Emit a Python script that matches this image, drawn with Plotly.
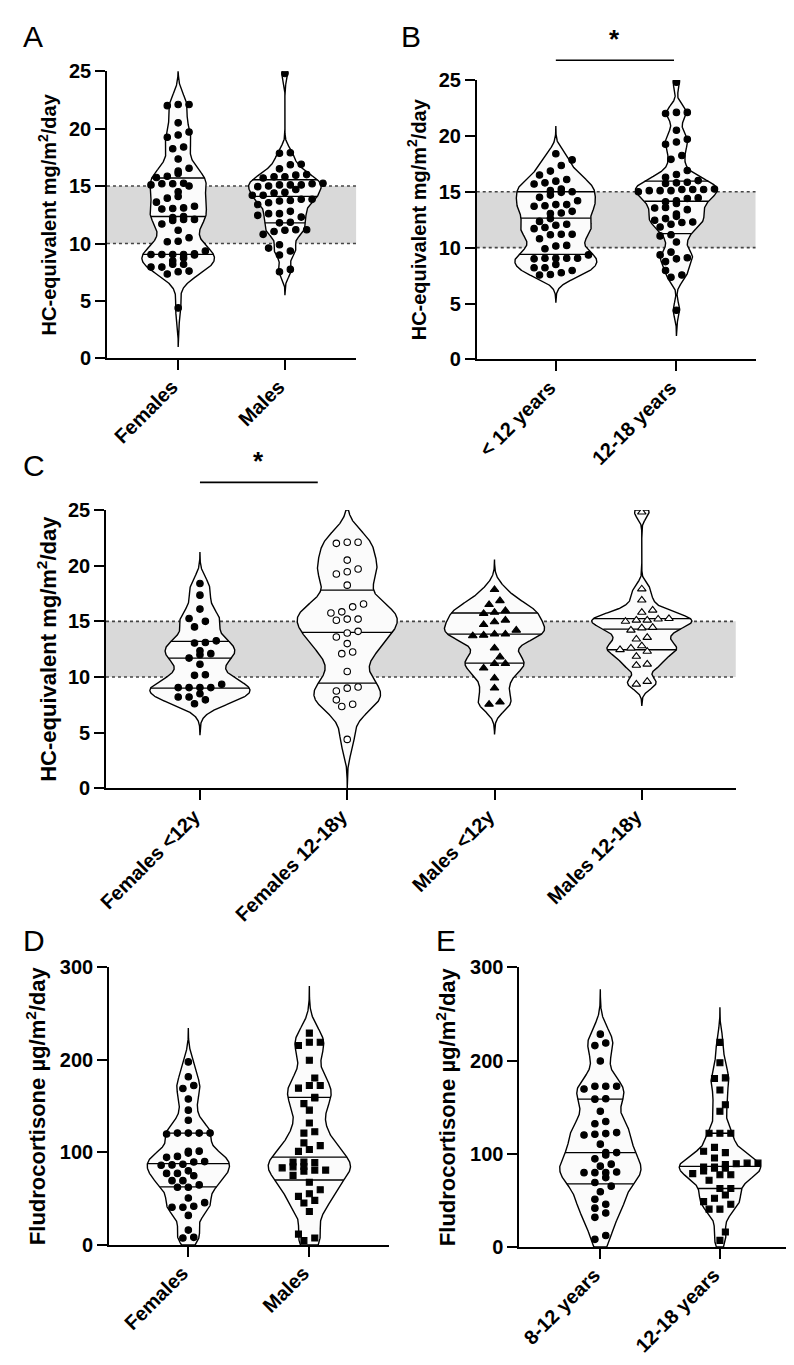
import numpy as np
import plotly.graph_objects as go

W, H = 794, 1365

# HC-equivalent dose, mg/m2/day (subgroups of panel C; A and B are their unions)
fem_lt12 = [18.4, 17.35, 16.1, 15.25, 15.0, 14.5, 13.25, 13.1, 13.05, 12.35, 12.1, 12.0, 11.7,
            11.15, 10.2, 10.15, 9.35, 9.05, 9.05, 9.05, 9.05, 8.5, 8.2, 8.2, 7.95, 7.6]
fem_12_18 = [22.1, 22.0, 22.1, 20.5, 19.7, 19.45, 19.25, 18.25, 16.55, 16.3, 15.85, 15.75, 15.2,
             15.2, 15.1, 14.1, 13.95, 13.6, 13.0, 12.25, 12.1, 10.5, 9.1, 9.0, 8.75, 7.95, 7.55,
             7.35, 4.4]
male_lt12 = [17.85, 16.85, 16.5, 15.95, 15.8, 15.7, 15.1, 14.95, 14.7, 14.2, 13.85, 13.85, 13.75,
             13.7, 12.6, 11.8, 11.2, 11.2, 10.8, 9.9, 9.0, 7.75, 7.55]
male_12_18 = [24.8, 17.9, 16.9, 16.0, 15.8, 15.25, 15.2, 15.1, 15.1, 15.0, 14.45, 14.4, 14.2,
              13.55, 13.4, 12.8, 12.6, 12.45, 12.3, 11.85, 11.15, 11.05, 9.6, 9.35]

# fludrocortisone dose, ug/m2/day
fc_females = [197.9, 181.9, 172.3, 169.1, 157.8, 145.7, 134.8, 120.9, 120.9, 120.9, 120.9, 119.9,
              101.4, 101.1, 99.3, 95.7, 94.7, 90.1, 89.7, 87.2, 86.5, 86.2, 80.1, 77.3, 77.3, 74.8,
              69.5, 69.5, 64.9, 62.4, 62.4, 50.7, 45.7, 41.8, 40.8, 40.8, 31.9, 16.0, 8.2, 7.4]
fc_males = [229.0, 219.1, 219.1, 215.6, 199.6, 180.5, 172.3, 172.3, 169.5, 159.6, 158.9, 152.8,
            145.7, 131.9, 122.3, 120.9, 110.3, 107.4, 103.2, 101.1, 89.7, 89.7, 89.0, 84.8, 84.4,
            83.3, 80.9, 80.9, 79.8, 75.2, 67.7, 59.6, 55.3, 52.5, 48.2, 45.4, 36.2, 11.7, 7.4, 4.6]
fc_8_12 = [228.4, 218.9, 216.1, 199.5, 172.4, 172.4, 172.4, 169.5, 159.0, 158.6, 145.6, 134.6,
           132.2, 122.7, 121.6, 120.9, 120.2, 110.3, 101.2, 101.2, 98.7, 94.5, 88.8, 86.7, 80.4,
           79.7, 79.7, 79.7, 74.4, 69.1, 65.2, 59.2, 51.1, 45.8, 41.6, 36.3, 31.7, 12.3, 8.1]
fc_12_18 = [219.6, 197.7, 181.5, 180.8, 168.5, 152.6, 145.6, 122.0, 122.0, 122.0, 106.8, 102.6,
            101.2, 95.5, 89.9, 89.9, 89.2, 88.5, 85.7, 85.7, 84.6, 84.6, 81.4, 78.6, 77.5, 77.5,
            71.6, 62.7, 62.7, 55.7, 52.2, 48.6, 45.8, 40.5, 40.5, 15.9, 7.0]

# quartile lines (q1, median, q3) as drawn in the figure
quart_a = [(9.05, 12.35, 15.7), (11.8, 14.1, 15.55)]
quart_b = [(9.4, 12.65, 15.0), (11.25, 14.15, 15.95)]
quart_c = [(9.0, 11.7, 13.2), (9.45, 14.0, 17.8), (11.25, 13.85, 15.75), (12.45, 14.3, 15.25)]
quart_d = [(62.8, 87.9, 120.9), (70.2, 95.0, 159.6)]
quart_e = [(67.7, 101.2, 158.6), (62.7, 86.4, 122.0)]

labels_a = ["Females", "Males"]
labels_b = ["< 12 years", "12-18 years"]
labels_c = ["Females <12y", "Females 12-18y", "Males <12y", "Males 12-18y"]
labels_d = ["Females", "Males"]
labels_e = ["8-12 years", "12-18 years"]

HC_TITLE = "HC-equivalent mg/m<sup>2</sup>/day"
FC_TITLE = "Fludrocortisone µg/m<sup>2</sup>/day"
FONT = "Arial, Liberation Sans, sans-serif"

DOT = dict(symbol="circle", color="black", size=6.5)
RING = dict(symbol="circle", color="white", size=6.5)
TRI = dict(symbol="triangle-up", color="black", size=7.5)
OTRI = dict(symbol="triangle-up", color="white", size=7.5)
SQ = dict(symbol="square", color="black", size=6)

panels = [
    dict(letter="A", px=(91, 343), py=(53, 345), ymax=25, dtick=5, pad=0.667,
         groups=[fem_lt12 + fem_12_18, male_lt12 + male_12_18], labels=labels_a,
         quart=quart_a, marks=[DOT, DOT], band=True, title=HC_TITLE, tsize=20, standoff=7,
         xsize=20),
    dict(letter="B", px=(465, 747), py=(62, 346), ymax=25, dtick=5, pad=0.656,
         groups=[fem_lt12 + male_lt12, fem_12_18 + male_12_18], labels=labels_b,
         quart=quart_b, marks=[DOT, DOT], band=True, title=HC_TITLE, tsize=20, standoff=7,
         xsize=20, sig=(0.0, 0.98, 42)),
    dict(letter="C", px=(90, 727), py=(499, 782), ymax=25, dtick=5, pad=0.638,
         groups=[fem_lt12, fem_12_18, male_lt12, male_12_18], labels=labels_c,
         quart=quart_c, marks=[DOT, RING, TRI, OTRI], band=True, title=HC_TITLE, tsize=22,
         standoff=5, xsize=20, sig=(0.0, 0.8, 471)),
    dict(letter="D", px=(93, 376), py=(964, 1246), ymax=300, dtick=100, pad=0.656,
         groups=[fc_females, fc_males], labels=labels_d,
         quart=quart_d, marks=[DOT, SQ], band=False, title=FC_TITLE, tsize=22, standoff=8,
         xsize=20),
    dict(letter="E", px=(508, 793), py=(964, 1248), ymax=300, dtick=100, pad=0.678,
         groups=[fc_8_12, fc_12_18], labels=labels_e,
         quart=quart_e, marks=[DOT, SQ], band=False, title=FC_TITLE, tsize=22, standoff=8,
         xsize=20),
]
letter_pos = {"A": (4, 18), "B": (386, 18), "C": (4, 454), "D": (4, 937), "E": (422, 937)}

HALF_W = 0.34


def bandwidth(v):
    iqr = np.subtract(*np.percentile(v, [75, 25]))
    return 0.5 * min(v.std(ddof=1), iqr / 1.34) * len(v) ** -0.2


def kde(v, grid, bw):
    return np.exp(-0.5 * ((np.asarray(grid)[:, None] - v[None, :]) / bw) ** 2).sum(axis=1)


def swarm(vals, kx, ky, step=11.0, row_h=6.0, gap=8.5):
    """Centred rows of points, shifted half a step when they would overlap."""
    vals = np.asarray(vals, float)
    rows = []
    for i in np.argsort(vals):
        y = vals[i] * ky
        if rows and y - rows[-1][0] < row_h:
            rows[-1][1].append(i)
        else:
            rows.append([y, [i]])
    offs = np.zeros(len(vals))
    placed = []
    for _, idx in rows:
        m = len(idx)
        best = None
        for shift in (0.0, step / 2, -step / 2, step, -step):
            xs = [(j - (m - 1) / 2) * step + shift for j in range(m)]
            hits = sum(1 for x, i in zip(xs, idx) for px, py in placed
                       if (x - px) ** 2 + (vals[i] * ky - py) ** 2 < gap ** 2)
            if best is None or hits < best[0]:
                best = (hits, xs)
            if hits == 0:
                break
        for x, i in zip(best[1], idx):
            placed.append((x, vals[i] * ky))
            offs[i] = x / kx
    return offs


fig = go.Figure()
shapes, annotations = [], []

for n, p in enumerate(panels, start=1):
    sfx = "" if n == 1 else str(n)
    xa, ya = "x" + sfx, "y" + sfx
    ncat = len(p["groups"])
    x0, x1 = p["px"]
    ytop, ybot = p["py"]
    xrange = [-p["pad"], ncat - 1 + p["pad"]]
    kx = (x1 - x0) / (xrange[1] - xrange[0])
    ky = (ybot - ytop) / p["ymax"]

    axis_common = dict(showline=True, linecolor="black", linewidth=1.5, ticks="outside",
                       tickwidth=1.5, tickcolor="black", showgrid=False, zeroline=False)
    fig.update_layout({
        "xaxis" + sfx: dict(domain=[x0 / W, x1 / W], anchor=ya, range=xrange,
                            tickvals=list(range(ncat)), ticktext=p["labels"], tickangle=-45,
                            ticklen=10, ticklabelshift=-6, ticklabelstandoff=-3,
                            tickfont=dict(family=FONT, size=p["xsize"], color="black",
                                          weight="bold"), **axis_common),
        "yaxis" + sfx: dict(domain=[1 - ybot / H, 1 - ytop / H], anchor=xa,
                            range=[0, p["ymax"]], dtick=p["dtick"], ticklen=10,
                            tickfont=dict(family=FONT, size=20, color="black", weight="bold"),
                            title=dict(text=p["title"], standoff=p["standoff"],
                                       font=dict(family=FONT, size=p["tsize"], color="black",
                                                 weight="bold")),
                            **axis_common),
    })

    if p["band"]:
        shapes.append(dict(type="rect", xref=xa + " domain", yref=ya, x0=0, x1=1, y0=10, y1=15,
                           fillcolor="#d9d9d9", line_width=0, layer="below"))
        for yv in (10, 15):
            shapes.append(dict(type="line", xref=xa + " domain", yref=ya, x0=0, x1=1,
                               y0=yv, y1=yv, line=dict(color="#444", width=1.6, dash="dot"),
                               layer="below"))

    for i, (vals, quart, mk) in enumerate(zip(p["groups"], p["quart"], p["marks"])):
        v = np.asarray(vals, float)
        bw = bandwidth(v)
        lo = max(v.min() - 3.5 * bw, 0)
        hi = min(v.max() + 3.5 * bw, p["ymax"])
        grid = np.linspace(lo, hi, 500)
        dens = kde(v, grid, bw)
        scale = HALF_W / dens.max()
        w = dens * scale
        fig.add_trace(go.Scatter(
            x=np.concatenate([i + w, (i - w)[::-1], [i + w[0]]]),
            y=np.concatenate([grid, grid[::-1], [grid[0]]]),
            mode="lines", fill="toself", fillcolor="#fbfbfb",
            line=dict(color="black", width=1.4), hoverinfo="skip",
            showlegend=False, xaxis=xa, yaxis=ya))

        qx, qy = [], []
        for q in quart:
            wq = kde(v, [q], bw)[0] * scale
            qx += [i - wq, i + wq, None]
            qy += [q, q, None]
        fig.add_trace(go.Scatter(x=qx, y=qy, mode="lines", line=dict(color="black", width=1.3),
                                 hoverinfo="skip", showlegend=False, xaxis=xa, yaxis=ya))

        offs = swarm(v, kx, ky)
        fig.add_trace(go.Scatter(
            x=i + offs, y=v, mode="markers", showlegend=False, xaxis=xa, yaxis=ya,
            marker=dict(symbol=mk["symbol"], size=mk["size"], color=mk["color"],
                        line=dict(color="black", width=1.1))))

    if "sig" in p:
        sx0, sx1, sy = p["sig"]
        shapes.append(dict(type="line", xref=xa, yref="paper", x0=sx0, x1=sx1,
                           y0=1 - sy / H, y1=1 - sy / H, line=dict(color="black", width=1.6)))
        annotations.append(dict(text="*", xref=xa, yref="paper", x=(sx0 + sx1) / 2,
                                y=1 - (sy - 4) / H, yanchor="bottom", showarrow=False,
                                font=dict(family=FONT, size=26, color="black", weight="bold")))

    lx, ly = letter_pos[p["letter"]]
    annotations.append(dict(text=p["letter"], xref="paper", yref="paper", x=lx / W,
                            y=1 - ly / H, xanchor="left", yanchor="middle", showarrow=False,
                            font=dict(family=FONT, size=30, color="black")))

fig.update_layout(width=W, height=H, margin=dict(l=0, r=0, t=0, b=0),
                  paper_bgcolor="white", plot_bgcolor="white",
                  shapes=shapes, annotations=annotations, showlegend=False)
fig.write_html("out.html")
